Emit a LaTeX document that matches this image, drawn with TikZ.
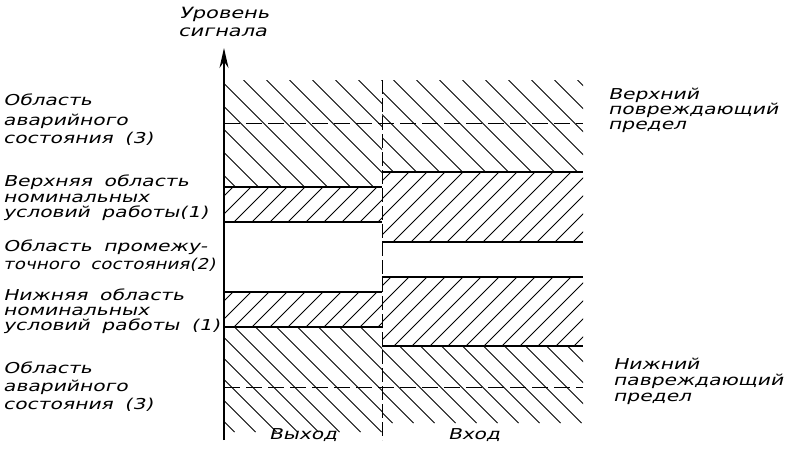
\documentclass[tikz,border=0pt]{standalone}
\usepackage{fontspec}
\newfontfamily\gost[FakeStretch=1.35,FakeSlant=0.25,WordSpace=1.8]{DejaVu Sans}
\newfontfamily\gostn[FakeStretch=1.22,FakeSlant=0.25,WordSpace=1.8]{DejaVu Sans}
\usetikzlibrary{arrows.meta}
\tikzset{hatchline/.style={line width=1pt}}
% "\" hatching of the box x1,y1,x2,y2 (y grows downward), horizontal step s
\newcommand\hzdown[5]{%
  \begin{scope}
    \clip (#1,#2) rectangle (#3,#4);
    \pgfmathsetmacro\hzH{#4-#2}
    \pgfmathsetmacro\hzA{#1-\hzH+#5/2}
    \pgfmathsetmacro\hzB{\hzA+#5}
    \foreach \o in {\hzA,\hzB,...,#3} \draw[hatchline] (\o,#2) -- ++(\hzH,\hzH);
  \end{scope}}
% "/" hatching
\newcommand\hzup[5]{%
  \begin{scope}
    \clip (#1,#2) rectangle (#3,#4);
    \pgfmathsetmacro\hzH{#4-#2}
    \pgfmathsetmacro\hzA{#1-\hzH+#5/2}
    \pgfmathsetmacro\hzB{\hzA+#5}
    \foreach \o in {\hzA,\hzB,...,#3} \draw[hatchline] (\o,#4) -- ++(\hzH,-\hzH);
  \end{scope}}
\begin{document}
\begin{tikzpicture}[x=1pt,y=-1pt,
  lbl/.style={anchor=mid west,inner sep=0pt,font=\gost\fontsize{15}{17}\selectfont},
  lbln/.style={lbl,font=\gostn\fontsize{15}{17}\selectfont},
  lblw/.style={lbl,font=\gost\fontsize{15.5}{18}\selectfont},
  clbl/.style={anchor=mid,inner sep=0pt,font=\gost\fontsize{15}{17}\selectfont},
  bandline/.style={line width=2.2pt},
  dashline/.style={line width=1pt,dash pattern=on 16pt off 6pt},
  vdash/.style={line width=1pt,dash pattern=on 14pt off 4pt}]
\useasboundingbox (0,0) rectangle (788,451);

% hatched regions, left half (output)
\hzdown{224}{80}{382}{187}{23}
\hzup{224}{187}{382}{222}{18}
\hzup{224}{292}{382}{327}{18}
\hzdown{224}{327}{382}{432}{21}
% hatched regions, right half (input)
\hzdown{382}{80}{583}{172}{23}
\hzup{382}{172}{583}{242}{18}
\hzup{382}{277}{583}{346}{18}
\hzdown{382}{346}{583}{423}{21}

% coordinates
\coordinate (axB) at (224,440);
\coordinate (axT) at (224,48);
\coordinate (vT) at (382,80);
\coordinate (vB) at (382,440);

% boundary lines, left half
\draw[bandline] (224,187) coordinate (l1a) -- (382,187) coordinate (l1b);
\draw[bandline] (224,222) coordinate (l2a) -- (382,222) coordinate (l2b);
\draw[bandline] (224,292) coordinate (l3a) -- (382,292) coordinate (l3b);
\draw[bandline] (224,327) coordinate (l4a) -- (382,327) coordinate (l4b);
% boundary lines, right half
\draw[bandline] (382,172) coordinate (r1a) -- (583,172) coordinate (r1b);
\draw[bandline] (382,242) coordinate (r2a) -- (583,242) coordinate (r2b);
\draw[bandline] (382,277) coordinate (r3a) -- (583,277) coordinate (r3b);
\draw[bandline] (382,346) coordinate (r4a) -- (583,346) coordinate (r4b);

% damage limits
\coordinate (dTa) at (224,123); \coordinate (dTb) at (583,123);
\coordinate (dBa) at (224,387); \coordinate (dBb) at (583,387);
\draw[dashline] (dTa) -- (dTb);
\draw[dashline] (dBa) -- (dBb);

% separator and axis
\draw[vdash] (vT) -- (vB);
\draw[line width=1.4pt,-{Stealth[length=20pt,width=9pt]}] (axB) -- (axT);

% axis label
\node[lblw] (ylab1) at (179,16) {Уровень};
\node[lblw] (ylab2) at (178,34) {сигнала};

% left labels
\node[lbl] (a1) at (3,103) {Область};
\node[lbl] (a2) at (3,123) {аварийного};
\node[lbl] (a3) at (3,141) {состояния (3)};
\node[lbl] (b1) at (3,184) {Верхняя область};
\node[lbl] (b2) at (3,200) {номинальных};
\node[lbl] (b3) at (3,215) {условий работы(1)};
\node[lbl] (c1) at (3,249) {Область промежу-};
\node[lbln] (c2) at (3,267) {точного состояния(2)};
\node[lbl] (d1) at (3,298) {Нижняя область};
\node[lbl] (d2) at (3,313) {номинальных};
\node[lbl] (d3) at (3,328) {условий работы (1)};
\node[lbl] (e1) at (3,371) {Область};
\node[lbl] (e2) at (3,389) {аварийного};
\node[lbl] (e3) at (3,407) {состояния (3)};

% right labels
\node[lbl] (f1) at (608,97) {Верхний};
\node[lbl] (f2) at (608,112) {повреждающий};
\node[lbl] (f3) at (608,127) {предел};
\node[lbl] (g1) at (613,367) {Нижний};
\node[lbl] (g2) at (613,383) {павреждающий};
\node[lbl] (g3) at (613,399) {предел};

% bottom labels
\node[clbl] (out) at (303,437) {Выход};
\node[clbl] (in) at (474,437) {Вход};
\end{tikzpicture}
\end{document}
